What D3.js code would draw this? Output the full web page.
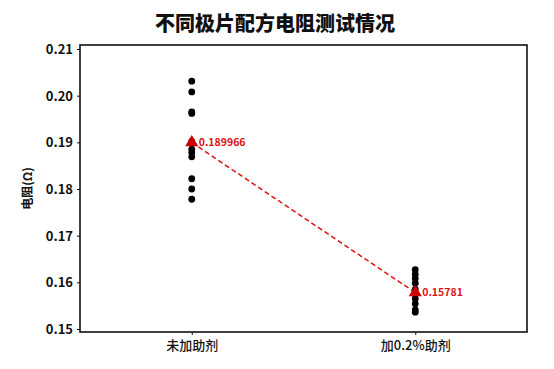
<!DOCTYPE html>
<html><head><meta charset="utf-8">
<script src="https://cdn.jsdelivr.net/npm/d3@7"></script>
<style>
body{margin:0;background:#fff;}
text{font-family:"Noto Sans CJK SC","Noto Sans",sans-serif;}
</style></head>
<body><svg id="c" width="554" height="369"></svg>
<script>
const categories = ["未加助剂", "加0.2%助剂"];
const group1Values = [0.2031, 0.2008, 0.1965, 0.1962, 0.1902, 0.1897, 0.1885, 0.1878, 0.1869, 0.1822, 0.1800, 0.1778];
const group2Values = [0.1627, 0.1617, 0.1608, 0.1598, 0.1585, 0.1575, 0.1565, 0.1554, 0.1541, 0.1536];
const meanValues = [0.189966, 0.15781];
const meanLabels = ["0.189966", "0.15781"];
const yTicks = [0.15, 0.16, 0.17, 0.18, 0.19, 0.20, 0.21];
const title = "不同极片配方电阻测试情况";
const yTitle = "电阻(Ω)";

const svg = d3.select("#c");
const L = 80, R = 527, T = 45, B = 332;
const x = d3.scalePoint().domain(categories).range([L, R]).padding(0.5);
const y = d3.scaleLinear().domain([0.21 + 4/4660, 0.15 - 3/4660]).range([T, B]);

// axes
const yAxis = svg.append("g").attr("transform", `translate(${L},0)`)
  .call(d3.axisLeft(y).tickValues(yTicks).tickFormat(d3.format(".2f")).tickSize(3).tickSizeOuter(0));
yAxis.select(".domain").remove();
yAxis.selectAll("text").attr("font-size", 13).attr("font-weight", "bold").attr("fill", "#111").attr("dx", -1).attr("dy", "0.35em");
yAxis.selectAll("line").attr("stroke", "#111");

const xAxis = svg.append("g").attr("transform", `translate(0,${B})`)
  .call(d3.axisBottom(x).tickSize(3).tickSizeOuter(0));
xAxis.select(".domain").remove();
xAxis.selectAll("text").attr("font-size", 13).attr("font-weight", "500").attr("fill", "#111").attr("dy", "0.9em");
xAxis.selectAll("line").attr("stroke", "#111");

// panel border
svg.append("rect").attr("x", L).attr("y", T).attr("width", R - L).attr("height", B - T)
  .attr("fill", "none").attr("stroke", "#111").attr("stroke-width", 1.6);

// points
const pts = [];
group1Values.forEach(v => pts.push({c: categories[0], v}));
group2Values.forEach(v => pts.push({c: categories[1], v}));
svg.append("g").selectAll("circle").data(pts).join("circle")
  .attr("cx", d => x(d.c)).attr("cy", d => y(d.v)).attr("r", 3.4).attr("fill", "#000");

// mean line
const means = categories.map((c, i) => ({c, v: meanValues[i], l: meanLabels[i]}));
svg.append("path").datum(means)
  .attr("d", d3.line().x(d => x(d.c)).y(d => y(d.v)))
  .attr("fill", "none").attr("stroke", "#dd1111").attr("stroke-width", 1.5).attr("stroke-dasharray", "5,3");

svg.append("g").selectAll("path").data(means).join("path")
  .attr("d", d3.symbol().type(d3.symbolTriangle).size(75))
  .attr("transform", d => `translate(${x(d.c)},${y(d.v)})`)
  .attr("fill", "#cc0000");

svg.append("g").selectAll("text").data(means).join("text")
  .attr("x", d => x(d.c) + 7).attr("y", d => y(d.v)).attr("dy", "0.35em")
  .attr("font-size", 10.5).attr("font-weight", "bold").attr("fill", "#dd1111")
  .text(d => d.l);

// titles
svg.append("text").attr("x", 275).attr("y", 31).attr("text-anchor", "middle")
  .attr("font-size", 20).attr("font-weight", "900").attr("fill", "#111").text(title);
svg.append("text").attr("transform", `translate(32,${(T + B) / 2}) rotate(-90)`)
  .attr("text-anchor", "middle").attr("font-size", 12).attr("font-weight", "bold").attr("fill", "#111").text(yTitle);
</script></body></html>
